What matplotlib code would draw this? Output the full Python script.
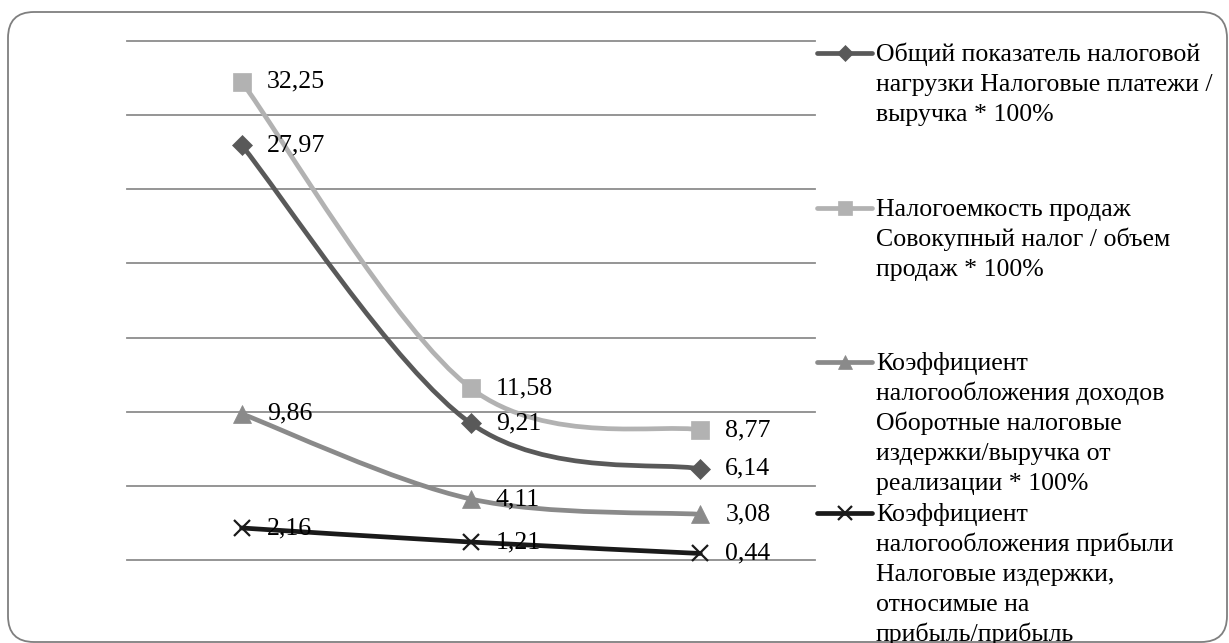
import matplotlib
matplotlib.use("Agg")
import matplotlib.pyplot as plt
import numpy as np
from matplotlib.path import Path
from matplotlib.patches import PathPatch, FancyBboxPatch
from matplotlib.lines import Line2D
from matplotlib.transforms import IdentityTransform

plt.rcParams['font.family'] = ['Liberation Serif', 'DejaVu Serif']

# данные
periods = [1, 2, 3]
series_names = [
    "Общий показатель налоговой\nнагрузки Налоговые платежи /\nвыручка * 100%",
    "Налогоемкость продаж\nСовокупный налог / объем\nпродаж * 100%",
    "Коэффициент\nналогообложения доходов\nОборотные налоговые\nиздержки/выручка от\nреализации * 100%",
    "Коэффициент\nналогообложения прибыли\nНалоговые издержки,\nотносимые на\nприбыль/прибыль",
]
tax_burden = [27.97, 9.21, 6.14]
tax_intensity = [32.25, 11.58, 8.77]
income_ratio = [9.86, 4.11, 3.08]
profit_ratio = [2.16, 1.21, 0.44]
all_series = [tax_burden, tax_intensity, income_ratio, profit_ratio]

colors = ['#595959', '#b2b2b2', '#8a8a8a', '#1a1a1a']
markers = ['D', 's', '^', 'x']
msizes = [10, 12.5, 13, 12]
FS = 18.6

W, H = 1229, 643
fig = plt.figure(figsize=(W / 100, H / 100), dpi=100)
ax = fig.add_axes([127 / W, 1 - 560 / H, 688 / W, 519 / H])
ax.set_xlim(0.5, 3.5)
ax.set_ylim(0, 35)
ax.axis('off')

# сетка
for yv in np.arange(0, 36, 5):
    ax.axhline(yv, color='#8c8c8c', lw=1.3, clip_on=False, zorder=1)


def smooth_path(xs, ys):
    # сглаживание как в Excel (Catmull-Rom -> Безье)
    pts = np.column_stack([xs, ys]).astype(float)
    n = len(pts)
    verts = [pts[0]]
    codes = [Path.MOVETO]
    for i in range(n - 1):
        p0 = pts[i - 1] if i > 0 else pts[i]
        p1 = pts[i]
        p2 = pts[i + 1]
        p3 = pts[i + 2] if i + 2 < n else pts[i + 1]
        c1 = p1 + (p2 - p0) / 6.0
        c2 = p2 - (p3 - p1) / 6.0
        verts += [c1, c2, p2]
        codes += [Path.CURVE4] * 3
    return Path(verts, codes)


for vals, col, mk, ms in zip(all_series, colors, markers, msizes):
    patch = PathPatch(smooth_path(periods, vals), fill=False, edgecolor=col,
                      lw=3.4, capstyle='round', joinstyle='round', zorder=3)
    ax.add_patch(patch)
    ax.plot(periods, vals, linestyle='none', marker=mk, ms=ms, color=col,
            mec=col, mew=1.6 if mk == 'x' else 0.5, zorder=4, clip_on=False)
    for xv, yv in zip(periods, vals):
        ax.annotate(f"{yv:.2f}".replace('.', ','), (xv, yv), xytext=(18, 0),
                    textcoords='offset points', va='center', ha='left',
                    fontsize=FS, color='black', zorder=5)

# легенда справа
entry_tops = [53, 208, 362, 513]
line_step = 30
for name, col, mk, ms, yc in zip(series_names, colors, markers, msizes, entry_tops):
    fy = 1 - yc / H
    fig.add_artist(Line2D([817 / W, 872 / W], [fy, fy], transform=fig.transFigure,
                          color=col, lw=3.4, solid_capstyle='round'))
    fig.add_artist(Line2D([845 / W], [fy], transform=fig.transFigure, marker=mk,
                          ms=ms * 0.8, color=col, mew=1.6 if mk == 'x' else 0.5,
                          linestyle='none'))
    for k, line in enumerate(name.split('\n')):
        base = yc + 8 + k * line_step
        fig.text(876 / W, 1 - base / H, line, fontsize=FS, va='baseline',
                 ha='left', color='black')

# рамка с закругленными углами
frame = FancyBboxPatch((8, 1), 1219, 630, boxstyle="round,pad=0,rounding_size=26",
                       transform=IdentityTransform(), fill=False,
                       edgecolor='#7f7f7f', lw=1.3)
fig.add_artist(frame)

fig.savefig('out.png', dpi=100)
